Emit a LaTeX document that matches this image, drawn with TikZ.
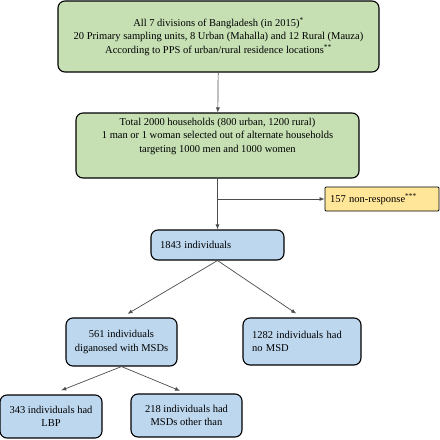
\documentclass[tikz,border=0pt]{standalone}
\usepackage{fontspec}
\setmainfont{Liberation Serif}
\usepackage{tikz}
\usetikzlibrary{arrows.meta}
\tikzset{>={Latex[length=5pt,width=4pt]}}
\definecolor{boxgreen}{HTML}{C6E0B4}
\definecolor{boxblue}{HTML}{BDD7EE}
\definecolor{boxyellow}{HTML}{FFE699}
\tikzset{box/.style = {rectangle, rounded corners=7pt, draw=black, line width=1.1pt, align=center, inner sep=3pt, font=\fontsize{10.5}{13.5}\selectfont}}
\tikzset{greenbox/.style = {box, fill=boxgreen}}
\tikzset{bluebox/.style = {box, fill=boxblue}}
\tikzset{flow/.style = {->, draw=black!70, line width=0.7pt}}

\begin{document}
\begin{tikzpicture}[x=1pt, y=-1pt]
\useasboundingbox (0,0) rectangle (440,440);
% sampling
\node [greenbox, minimum width=321, minimum height=71] (Div) at (218.5, 36.5) {All 7 divisions of Bangladesh (in 2015)\textsuperscript{*}\\ 20 Primary sampling units, 8 Urban (Mahalla) and 12 Rural (Mauza)\\ According to PPS of urban/rural residence locations\textsuperscript{**}};
\node [greenbox, minimum width=283, minimum height=65, text depth=21pt] (HH) at (217.5, 145.5) {Total 2000 households (800 urban, 1200 rural)\\ 1 man or 1 woman selected out of alternate households\\ targeting 1000 men and 1000 women};
\node [box, fill=boxyellow, rounded corners=1pt, line width=0.9pt, align=left, inner xsep=5pt, text width=104, minimum height=24] (NR) at (382, 199) {157 non-response\textsuperscript{***}};
% individuals
\node [bluebox, align=left, inner xsep=9pt, text width=115, minimum height=30] (Ind) at (217.5, 245) {1843 individuals};
\node [bluebox, minimum width=111, minimum height=48] (MSD) at (121.5, 342) {561 individuals\\ diganosed with MSDs};
\node [bluebox, align=left, inner xsep=9pt, text width=100, minimum height=47] (NoMSD) at (302, 341.5) {1282 individuals had\\ no MSD};
\node [bluebox, minimum width=102, minimum height=43] (LBP) at (51, 416.5) {343 individuals had\\ LBP};
\node [bluebox, minimum width=111, minimum height=43] (Other) at (186.5, 415.5) {218 individuals had\\ MSDs other than};
\coordinate (split) at (217.5, 199);
\draw [flow] (Div) to (HH);
\draw [flow] (HH) to (Ind);
\draw [flow] (split) to (NR);
\draw [flow, shorten >=7pt] (Ind.south) to (MSD.north);
\draw [flow, shorten >=7pt] (Ind.south) to (NoMSD.north);
\draw [flow, shorten >=11pt] (MSD.south) to (LBP.north);
\draw [flow, shorten >=7pt] (MSD.south) to (Other.north);
\end{tikzpicture}
\end{document}
